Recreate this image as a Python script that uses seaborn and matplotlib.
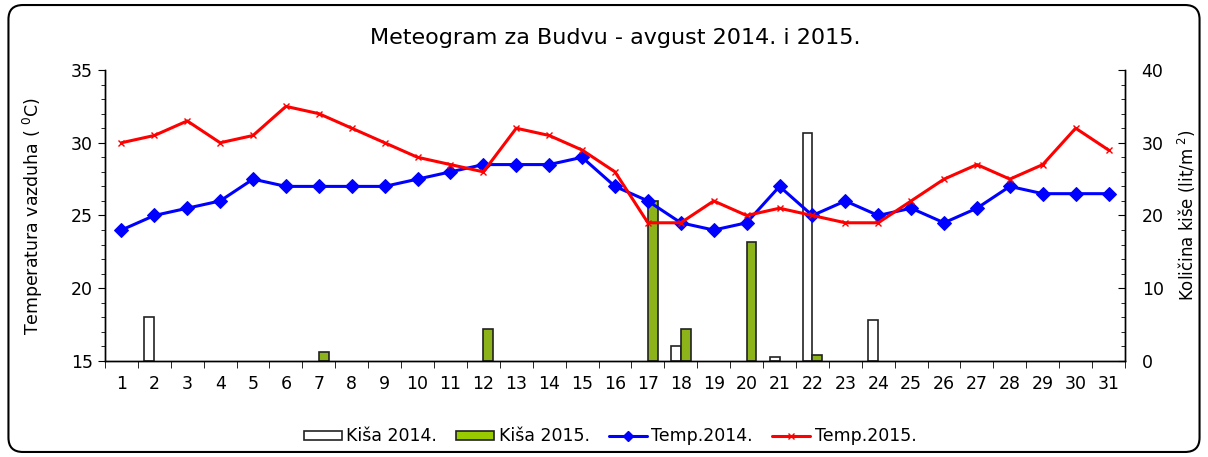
import numpy as np
import pandas as pd
import matplotlib
matplotlib.use('Agg')
import matplotlib.pyplot as plt
from matplotlib.patches import FancyBboxPatch
from matplotlib.lines import Line2D
from matplotlib.ticker import MultipleLocator
import seaborn as sns

# Podaci
days = list(range(1, 32))
temp_2014 = [24, 25, 25.5, 26, 27.5, 27, 27, 27, 27, 27.5, 28, 28.5, 28.5, 28.5, 29,
             27, 26, 24.5, 24, 24.5, 27, 25, 26, 25, 25.5, 24.5, 25.5, 27, 26.5, 26.5, 26.5]
temp_2015 = [30, 30.5, 31.5, 30, 30.5, 32.5, 32, 31, 30, 29, 28.5, 28, 31, 30.5, 29.5,
             28, 24.5, 24.5, 26, 25, 25.5, 25, 24.5, 24.5, 26, 27.5, 28.5, 27.5, 28.5, 31, 29.5]

rain_days_2014 = [2, 18, 21, 22, 24]
rain_2014 = [6.0, 2.0, 0.5, 31.3, 5.7]
rain_days_2015 = [7, 12, 17, 18, 20, 22]
rain_2015 = [1.2, 4.4, 22.0, 4.4, 16.4, 0.8]

rain_df = pd.concat([
    pd.DataFrame({'dan': rain_days_2014, 'kisa': rain_2014, 'godina': 'Kiša 2014.'}),
    pd.DataFrame({'dan': rain_days_2015, 'kisa': rain_2015, 'godina': 'Kiša 2015.'}),
])
temp_df = pd.DataFrame({'dan': days, 't2014': temp_2014, 't2015': temp_2015})

sns.set_style('white')
plt.rcParams['font.family'] = ['DejaVu Sans']
plt.rcParams['mathtext.default'] = 'regular'
plt.rcParams['text.color'] = 'black'
plt.rcParams['axes.labelcolor'] = 'black'
plt.rcParams['xtick.color'] = 'black'
plt.rcParams['ytick.color'] = 'black'

fig = plt.figure(figsize=(12.08, 4.57), dpi=100)
ax = fig.add_axes([0.0869, 0.2101, 0.8444, 0.6367])
ax2 = ax.twinx()

# Kiša na desnoj osi
sns.barplot(data=rain_df, x='dan', y='kisa', hue='godina', native_scale=True,
            hue_order=['Kiša 2014.', 'Kiša 2015.'],
            palette={'Kiša 2014.': 'white', 'Kiša 2015.': '#99CC00'},
            edgecolor='#222222', linewidth=1.2, width=0.6, errorbar=None,
            ax=ax2, legend=False)

# Temperature na lijevoj osi
sns.lineplot(data=temp_df, x='dan', y='t2014', color='#0000FF', lw=2.2,
             marker='D', markersize=7, markeredgecolor='#0000FF', label='Temp.2014.', ax=ax)
sns.lineplot(data=temp_df, x='dan', y='t2015', color='#FF0000', lw=2.2,
             marker='x', markersize=5, markeredgecolor='#FF0000', markeredgewidth=1.0,
             label='Temp.2015.', ax=ax)

ax.set_zorder(ax2.get_zorder() + 1)
ax.patch.set_visible(False)

ax.set_ylim(15, 35)
ax2.set_ylim(0, 40)

ax.set_xticks(days)
ax.set_xticklabels([str(d) for d in days])
ax.xaxis.set_minor_locator(MultipleLocator(1, offset=0.5))
ax.set_xlim(0.5, 31.5)
ax.tick_params(axis='x', which='major', length=0, labelsize=12.5, pad=10)
ax.tick_params(axis='x', which='minor', length=5, direction='out', color='black', bottom=True)
ax.yaxis.set_major_locator(MultipleLocator(5))
ax.yaxis.set_minor_locator(MultipleLocator(1))
ax.tick_params(axis='y', which='major', length=5, direction='out', labelsize=12.5, left=True)
ax.tick_params(axis='y', which='minor', length=3, direction='out', left=True)
ax2.yaxis.set_major_locator(MultipleLocator(10))
ax2.yaxis.set_minor_locator(MultipleLocator(2))
ax2.tick_params(axis='y', which='major', length=5, direction='in', labelsize=12.5, right=True, pad=12)
ax2.tick_params(axis='y', which='minor', length=3, direction='in', right=True)

for a in (ax, ax2):
    a.spines['top'].set_visible(False)
    for s in ('left', 'right', 'bottom'):
        a.spines[s].set_color('black')
        a.spines[s].set_linewidth(1)

ax.set_xlabel('')
ax2.set_xlabel('')
ax.set_ylabel(r'Temperatura vazduha ( $^{0}$C)', fontsize=12.5, labelpad=19)
ax2.set_ylabel(r'Količina kiše (lit/m$^{\ 2}$)', fontsize=12, labelpad=9)
ax.set_title('Meteogram za Budvu - avgust 2014. i 2015.', fontsize=16, pad=19)

# Legenda
ax.get_legend().remove()
handles = [plt.Rectangle((0, 0), 1, 1, facecolor='white', edgecolor='#222222', lw=1.2),
           plt.Rectangle((0, 0), 1, 1, facecolor='#99CC00', edgecolor='#222222', lw=1.2),
           Line2D([], [], color='#0000FF', lw=2.2, marker='D', markersize=5),
           Line2D([], [], color='#FF0000', lw=2.2, marker='x', markersize=4, markeredgewidth=1.0)]
labels = ['Kiša 2014.', 'Kiša 2015.', 'Temp.2014.', 'Temp.2015.']
fig.legend(handles, labels,
           loc='center', bbox_to_anchor=(0.505, 0.045), ncol=4, frameon=False,
           fontsize=12.5, handlelength=2.2, handleheight=0.45, handletextpad=0.25,
           columnspacing=1.1)

# Okvir
fig.patches.append(FancyBboxPatch((0.007, 0.011), 0.986, 0.978,
                                  boxstyle='round,pad=0,rounding_size=0.012',
                                  mutation_aspect=2.6,
                                  transform=fig.transFigure, fill=False,
                                  edgecolor='black', lw=1.5))

fig.savefig('out.png', dpi=100)
